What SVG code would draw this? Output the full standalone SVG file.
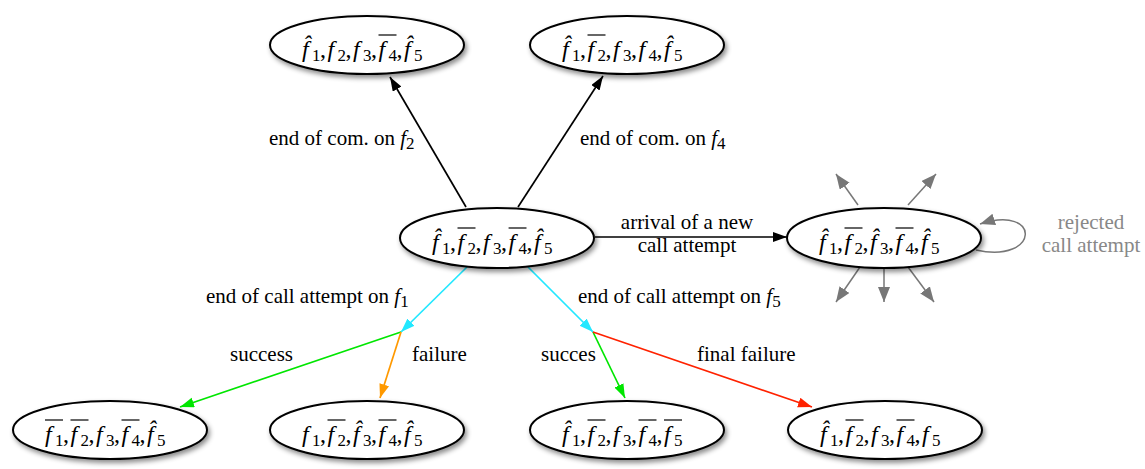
<svg xmlns="http://www.w3.org/2000/svg" width="1145" height="469" viewBox="0 0 1145 469" font-family="'Liberation Serif', 'DejaVu Serif', serif">
<style>
.nd{fill:#fff;stroke:#000;stroke-width:2;filter:url(#sh)}
.m{font-family:'Liberation Serif','DejaVu Serif',serif;font-size:24px;fill:#000}
.fi{font-style:italic}
.sb{font-size:17px}
.ol{stroke:#000;stroke-width:1.2}
.lb{font-family:'Liberation Serif','DejaVu Serif',serif;font-size:21px;fill:#000}
.gl{font-family:'Liberation Serif','DejaVu Serif',serif;font-size:21px;fill:#888;text-anchor:middle}
.e{fill:none;stroke-width:1.7}
.k{stroke:#000;marker-end:url(#ak)}
.c{stroke:#22e8ff;marker-end:url(#ac)}
.g{stroke:#00e600;marker-end:url(#ag)}
.o{stroke:#ff9900;marker-end:url(#ao)}
.r{stroke:#ff2200;marker-end:url(#ar)}
.gr{stroke:#777;stroke-width:1.5;marker-end:url(#agr)}
</style>
<defs>
<filter id="sh" x="-20%" y="-30%" width="140%" height="170%"><feDropShadow dx="2" dy="3" stdDeviation="2.5" flood-color="#000" flood-opacity="0.45"/></filter>
<marker id="ak" markerUnits="userSpaceOnUse" markerWidth="15" markerHeight="11" refX="14" refY="5" orient="auto"><path d="M0,0 L14,5 L0,10 z" fill="#000"/></marker>
<marker id="ac" markerUnits="userSpaceOnUse" markerWidth="15" markerHeight="11" refX="14" refY="5" orient="auto"><path d="M0,0 L14,5 L0,10 z" fill="#22e8ff"/></marker>
<marker id="ag" markerUnits="userSpaceOnUse" markerWidth="15" markerHeight="11" refX="14" refY="5" orient="auto"><path d="M0,0 L14,5 L0,10 z" fill="#00e600"/></marker>
<marker id="ao" markerUnits="userSpaceOnUse" markerWidth="15" markerHeight="11" refX="14" refY="5" orient="auto"><path d="M0,0 L14,5 L0,10 z" fill="#ff9900"/></marker>
<marker id="ar" markerUnits="userSpaceOnUse" markerWidth="15" markerHeight="11" refX="14" refY="5" orient="auto"><path d="M0,0 L14,5 L0,10 z" fill="#ff2200"/></marker>
<marker id="agr" markerUnits="userSpaceOnUse" markerWidth="16" markerHeight="13" refX="15" refY="6" orient="auto"><path d="M0,0 L15,6 L0,12 z" fill="#777"/></marker>
</defs>

<g id="connectors">
<path class="e k" d="M466,207 L390,77"/>
<path class="e k" d="M518,207 L603,76"/>
<path class="e k" d="M595,237 L787,237"/>
<path class="e c" d="M467,267 L401,332"/>
<path class="e c" d="M528,267 L593,332"/>
<path class="e g" d="M401,332 L180,407"/>
<path class="e o" d="M401,332 L380,398"/>
<path class="e g" d="M593,332 L625,398"/>
<path class="e r" d="M593,332 L812,407"/>
<path class="e gr" d="M858,205 L836,174"/>
<path class="e gr" d="M908,205 L936,174"/>
<path class="e gr" d="M860,267 L836,302"/>
<path class="e gr" d="M884,269 L884,302"/>
<path class="e gr" d="M908,267 L934,302"/>
<path class="e gr" d="M976,250 C1040,264 1042,204 980,224"/>
</g>

<g id="edge-labels">
<text class="lb" x="269" y="145">end of com. on <tspan class="fi">f</tspan><tspan class="sb" dy="4">2</tspan></text>
<text class="lb" x="580" y="145">end of com. on <tspan class="fi">f</tspan><tspan class="sb" dy="4">4</tspan></text>
<text class="lb" x="687" y="229" text-anchor="middle">arrival of a new</text>
<text class="lb" x="687" y="252" text-anchor="middle">call attempt</text>
<text class="lb" x="206" y="303">end of call attempt on <tspan class="fi">f</tspan><tspan class="sb" dy="4">1</tspan></text>
<text class="lb" x="578" y="303">end of call attempt on <tspan class="fi">f</tspan><tspan class="sb" dy="4">5</tspan></text>
<text class="lb" x="230" y="361">success</text>
<text class="lb" x="412" y="361">failure</text>
<text class="lb" x="541" y="361">succes</text>
<text class="lb" x="697" y="361">final failure</text>
<text class="gl" x="1091" y="229">rejected</text>
<text class="gl" x="1091" y="252">call attempt</text>
</g>

<g id="n-top-left">
<ellipse class="nd" cx="367" cy="45" rx="97" ry="29"/>
<text class="m" y="57"><tspan class="fi" x="302" y="57">f&#x302;</tspan><tspan class="sb" x="312" y="61">1</tspan><tspan x="320" y="57">,</tspan><tspan class="fi" x="327.5">f</tspan><tspan class="sb" x="337.5" y="61">2</tspan><tspan x="345.5" y="57">,</tspan><tspan class="fi" x="353">f</tspan><tspan class="sb" x="363" y="61">3</tspan><tspan x="371" y="57">,</tspan><tspan class="fi" x="378.5">f</tspan><tspan class="sb" x="388.5" y="61">4</tspan><tspan x="396.5" y="57">,</tspan><tspan class="fi" x="404">f&#x302;</tspan><tspan class="sb" x="414" y="61">5</tspan></text>
<line class="ol" x1="378.5" y1="35" x2="396.5" y2="35"/>
</g>

<g id="n-top-right">
<ellipse class="nd" cx="627" cy="45" rx="97" ry="29"/>
<text class="m" y="57"><tspan class="fi" x="562" y="57">f&#x302;</tspan><tspan class="sb" x="572" y="61">1</tspan><tspan x="580" y="57">,</tspan><tspan class="fi" x="587.5">f</tspan><tspan class="sb" x="597.5" y="61">2</tspan><tspan x="605.5" y="57">,</tspan><tspan class="fi" x="613">f</tspan><tspan class="sb" x="623" y="61">3</tspan><tspan x="631" y="57">,</tspan><tspan class="fi" x="638.5">f</tspan><tspan class="sb" x="648.5" y="61">4</tspan><tspan x="656.5" y="57">,</tspan><tspan class="fi" x="664">f&#x302;</tspan><tspan class="sb" x="674" y="61">5</tspan></text>
<line class="ol" x1="587.5" y1="35" x2="605.5" y2="35"/>
</g>

<g id="n-center">
<ellipse class="nd" cx="497" cy="238" rx="97" ry="30"/>
<text class="m" y="250"><tspan class="fi" x="432" y="250">f&#x302;</tspan><tspan class="sb" x="442" y="254">1</tspan><tspan x="450" y="250">,</tspan><tspan class="fi" x="457.5">f</tspan><tspan class="sb" x="467.5" y="254">2</tspan><tspan x="475.5" y="250">,</tspan><tspan class="fi" x="483">f</tspan><tspan class="sb" x="493" y="254">3</tspan><tspan x="501" y="250">,</tspan><tspan class="fi" x="508.5">f</tspan><tspan class="sb" x="518.5" y="254">4</tspan><tspan x="526.5" y="250">,</tspan><tspan class="fi" x="534">f&#x302;</tspan><tspan class="sb" x="544" y="254">5</tspan></text>
<line class="ol" x1="457.5" y1="228" x2="475.5" y2="228"/>
<line class="ol" x1="508.5" y1="228" x2="526.5" y2="228"/>
</g>

<g id="n-right">
<ellipse class="nd" cx="884" cy="238" rx="97" ry="30"/>
<text class="m" y="250"><tspan class="fi" x="819" y="250">f&#x302;</tspan><tspan class="sb" x="829" y="254">1</tspan><tspan x="837" y="250">,</tspan><tspan class="fi" x="844.5">f</tspan><tspan class="sb" x="854.5" y="254">2</tspan><tspan x="862.5" y="250">,</tspan><tspan class="fi" x="870">f&#x302;</tspan><tspan class="sb" x="880" y="254">3</tspan><tspan x="888" y="250">,</tspan><tspan class="fi" x="895.5">f</tspan><tspan class="sb" x="905.5" y="254">4</tspan><tspan x="913.5" y="250">,</tspan><tspan class="fi" x="921">f&#x302;</tspan><tspan class="sb" x="931" y="254">5</tspan></text>
<line class="ol" x1="844.5" y1="228" x2="862.5" y2="228"/>
<line class="ol" x1="895.5" y1="228" x2="913.5" y2="228"/>
</g>

<g id="n-bottom-1">
<ellipse class="nd" cx="110" cy="430" rx="97" ry="29"/>
<text class="m" y="442"><tspan class="fi" x="45" y="442">f</tspan><tspan class="sb" x="55" y="446">1</tspan><tspan x="63" y="442">,</tspan><tspan class="fi" x="70.5">f</tspan><tspan class="sb" x="80.5" y="446">2</tspan><tspan x="88.5" y="442">,</tspan><tspan class="fi" x="96">f</tspan><tspan class="sb" x="106" y="446">3</tspan><tspan x="114" y="442">,</tspan><tspan class="fi" x="121.5">f</tspan><tspan class="sb" x="131.5" y="446">4</tspan><tspan x="139.5" y="442">,</tspan><tspan class="fi" x="147">f&#x302;</tspan><tspan class="sb" x="157" y="446">5</tspan></text>
<line class="ol" x1="45" y1="420" x2="63" y2="420"/>
<line class="ol" x1="70.5" y1="420" x2="88.5" y2="420"/>
<line class="ol" x1="121.5" y1="420" x2="139.5" y2="420"/>
</g>

<g id="n-bottom-2">
<ellipse class="nd" cx="367" cy="430" rx="97" ry="29"/>
<text class="m" y="442"><tspan class="fi" x="302" y="442">f</tspan><tspan class="sb" x="312" y="446">1</tspan><tspan x="320" y="442">,</tspan><tspan class="fi" x="327.5">f</tspan><tspan class="sb" x="337.5" y="446">2</tspan><tspan x="345.5" y="442">,</tspan><tspan class="fi" x="353">f&#x302;</tspan><tspan class="sb" x="363" y="446">3</tspan><tspan x="371" y="442">,</tspan><tspan class="fi" x="378.5">f</tspan><tspan class="sb" x="388.5" y="446">4</tspan><tspan x="396.5" y="442">,</tspan><tspan class="fi" x="404">f&#x302;</tspan><tspan class="sb" x="414" y="446">5</tspan></text>
<line class="ol" x1="327.5" y1="420" x2="345.5" y2="420"/>
<line class="ol" x1="378.5" y1="420" x2="396.5" y2="420"/>
</g>

<g id="n-bottom-3">
<ellipse class="nd" cx="627" cy="430" rx="97" ry="29"/>
<text class="m" y="442"><tspan class="fi" x="562" y="442">f&#x302;</tspan><tspan class="sb" x="572" y="446">1</tspan><tspan x="580" y="442">,</tspan><tspan class="fi" x="587.5">f</tspan><tspan class="sb" x="597.5" y="446">2</tspan><tspan x="605.5" y="442">,</tspan><tspan class="fi" x="613">f</tspan><tspan class="sb" x="623" y="446">3</tspan><tspan x="631" y="442">,</tspan><tspan class="fi" x="638.5">f</tspan><tspan class="sb" x="648.5" y="446">4</tspan><tspan x="656.5" y="442">,</tspan><tspan class="fi" x="664">f</tspan><tspan class="sb" x="674" y="446">5</tspan></text>
<line class="ol" x1="587.5" y1="420" x2="605.5" y2="420"/>
<line class="ol" x1="638.5" y1="420" x2="656.5" y2="420"/>
<line class="ol" x1="664" y1="420" x2="682" y2="420"/>
</g>

<g id="n-bottom-4">
<ellipse class="nd" cx="885" cy="430" rx="97" ry="29"/>
<text class="m" y="442"><tspan class="fi" x="820" y="442">f&#x302;</tspan><tspan class="sb" x="830" y="446">1</tspan><tspan x="838" y="442">,</tspan><tspan class="fi" x="845.5">f</tspan><tspan class="sb" x="855.5" y="446">2</tspan><tspan x="863.5" y="442">,</tspan><tspan class="fi" x="871">f</tspan><tspan class="sb" x="881" y="446">3</tspan><tspan x="889" y="442">,</tspan><tspan class="fi" x="896.5">f</tspan><tspan class="sb" x="906.5" y="446">4</tspan><tspan x="914.5" y="442">,</tspan><tspan class="fi" x="922">f</tspan><tspan class="sb" x="932" y="446">5</tspan></text>
<line class="ol" x1="845.5" y1="420" x2="863.5" y2="420"/>
<line class="ol" x1="896.5" y1="420" x2="914.5" y2="420"/>
</g>
</svg>
